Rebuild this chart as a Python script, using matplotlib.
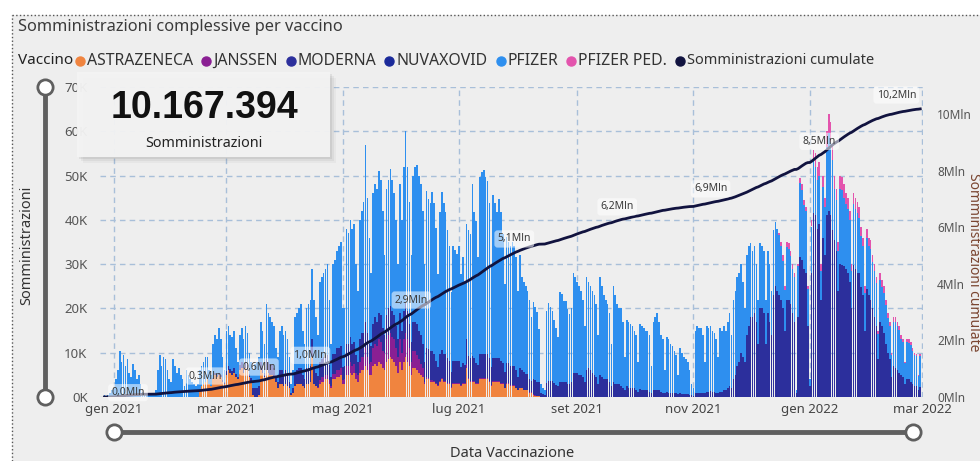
"""
Somministrazioni complessive per vaccino - daily doses by vaccine with cumulative line
"""

import numpy as np
import pandas as pd
import matplotlib.pyplot as plt
import matplotlib.dates as mdates
from matplotlib.lines import Line2D
from matplotlib.patches import Rectangle

plt.rcParams['font.family'] = ['Noto Sans', 'DejaVu Sans']

# daily doses in thousands, one row per week (Sun..Sat)
days = pd.date_range('2020-12-27', '2022-02-28')

pfizer_start = '2020-12-27'
pfizer = [
    0.5, 0.3, 0.4, 0.8, 1.5, 2.0, 4.0,
    6.0, 10.5, 8.0, 9.5, 7.0, 8.5, 5.5,
    4.5, 7.5, 6.0, 4.0, 5.0, 3.0, 1.2,
    0.6, 0.8, 0.7, 0.5, 0.9, 0.8, 1.5,
    6.0, 9.5, 7.0, 9.0, 8.5, 6.0, 4.0,
    3.5, 8.5, 7.0, 5.5, 6.5, 5.0, 4.0,
    2.5, 6.0, 5.0, 4.0, 3.5, 3.0, 2.5,
    3.0, 4.5, 4.5, 5.0, 5.5, 5.0, 3.0,
    2.5, 7.7, 8.5, 8.0, 10.0, 8.0, 5.2,
    2.7, 9.2, 9.0, 7.7, 7.7, 8.5, 5.9,
    3.5, 6.8, 7.5, 6.3, 8.0, 7.2, 4.7,
    3.7, 4.0, 5.5, 6.0, 6.5, 9.0, 8.0,
    6.5, 12.5, 11.0, 10.5, 9.5, 9.5, 6.0,
    5.5, 9.0, 10.0, 9.0, 9.0, 8.0, 5.5,
    2.0, 4.0, 12.5, 13.0, 13.5, 14.5, 10.0,
    8.0, 13.5, 14.5, 15.0, 16.0, 15.5, 12.5,
    9.2, 18.2, 18.5, 19.0, 19.5, 20.5, 14.7,
    7.5, 20.3, 21.3, 22.0, 23.0, 23.5, 13.2,
    13.0, 26.0, 25.0, 26.5, 26.0, 26.5, 20.5,
    16.0, 27.0, 27.5, 29.5, 40.0, 30.5, 24.0,
    16.5, 29.5, 30.0, 30.0, 32.0, 30.5, 26.5,
    18.0, 28.5, 29.0, 31.0, 29.5, 27.5, 24.0,
    17.0, 29.0, 25.0, 32.5, 38.5, 32.5, 27.5,
    19.5, 33.0, 35.0, 36.0, 35.0, 34.0, 30.0,
    22.0, 35.5, 34.0, 33.5, 36.0, 34.0, 30.0,
    21.0, 32.0, 35.5, 34.0, 32.0, 29.0, 26.0,
    18.0, 26.0, 25.0, 24.0, 26.0, 21.0, 24.0,
    19.0, 26.0, 28.5, 28.0, 39.0, 33.0, 32.0,
    24.5, 40.0, 41.0, 41.5, 40.0, 39.0, 35.0,
    23.0, 37.0, 35.0, 33.0, 36.0, 33.5, 29.0,
    20.0, 28.5, 27.5, 27.0, 28.0, 27.0, 25.5,
    19.4, 25.4, 20.9, 20.4, 19.9, 18.9, 17.9,
    14.4, 17.4, 16.4, 15.9, 12.1, 2.0, 1.4,
    1.1, 16.4, 17.7, 16.7, 15.8, 14.4, 13.0,
    11.1, 20.1, 19.7, 18.2, 18.2, 16.8, 15.8,
    16.5, 22.5, 21.5, 20.5, 20.0, 19.0, 17.5,
    12.5, 21.0, 19.5, 19.0, 18.5, 18.0, 16.5,
    11.0, 22.0, 20.5, 19.0, 18.0, 17.0, 15.5,
    9.5, 21.5, 20.0, 18.0, 17.0, 17.5, 15.0,
    7.5, 15.0, 15.0, 14.5, 14.0, 13.0, 12.5,
    6.8, 14.7, 14.5, 14.0, 13.5, 13.5, 12.8,
    6.0, 15.5, 16.5, 17.5, 15.5, 12.8, 12.0,
    5.2, 12.3, 12.0, 11.0, 10.5, 9.7, 8.7,
    4.4, 10.2, 9.3, 8.3, 7.9, 7.4, 5.5,
    2.5, 1.7, 14.0, 15.0, 14.5, 14.5, 13.0,
    7.0, 14.8, 14.3, 14.7, 13.8, 13.3, 12.0,
    8.0, 14.3, 13.8, 14.5, 13.5, 15.0, 16.5,
    12.0, 18.0, 19.0, 20.0, 20.0, 20.0, 17.0,
    12.0, 18.0, 18.0, 16.7, 15.0, 15.0, 13.0,
    10.0, 14.7, 14.0, 14.0, 10.0, 14.0, 13.0,
    10.0, 14.7, 14.6, 14.0, 13.5, 12.0, 10.8,
    9.2, 11.8, 11.5, 10.8, 10.0, 10.2, 0.5,
    11.5, 16.7, 15.8, 14.3, 14.0, 8.5, 1.5,
    10.5, 11.7, 11.0, 11.0, 11.0, 6.5, 11.5,
    11.0, 15.5, 17.5, 16.5, 15.8, 11.6, 11.5,
    9.0, 17.0, 17.0, 15.5, 14.5, 14.5, 14.0,
    8.5, 13.8, 13.5, 13.5, 12.5, 11.5, 11.0,
    8.5, 11.5, 11.0, 11.4, 10.5, 10.5, 9.8,
    5.7, 9.5, 8.9, 9.0, 8.8, 7.8, 7.5,
    5.0, 10.0, 10.5, 10.0, 9.7, 8.2, 7.9,
    4.6, 8.4, 8.2, 8.2, 7.4, 6.9, 6.7,
    3.2, 6.9,
]

moderna_start = '2021-02-21'
moderna = [
    0.0, 0.3, 0.5, 0.5, 0.5, 0.5, 0.3,
    0.3, 0.8, 1.0, 0.8, 0.8, 1.0, 0.6,
    0.5, 1.2, 1.5, 1.2, 1.5, 1.3, 0.8,
    0.8, 1.5, 2.0, 2.0, 2.0, 2.0, 1.5,
    1.0, 2.5, 2.5, 2.5, 2.5, 2.0, 1.5,
    1.5, 3.0, 3.0, 2.5, 3.0, 2.5, 1.5,
    0.5, 1.0, 3.0, 3.0, 3.5, 3.5, 2.5,
    2.0, 3.5, 3.5, 3.5, 4.0, 3.5, 3.0,
    2.5, 4.0, 4.0, 4.5, 4.5, 4.5, 3.5,
    2.0, 4.5, 4.5, 5.0, 5.0, 5.0, 3.0,
    3.0, 5.0, 5.0, 5.5, 5.0, 5.0, 4.0,
    3.0, 5.0, 5.5, 5.5, 6.0, 5.5, 4.5,
    3.5, 5.5, 6.0, 5.5, 6.0, 6.0, 5.0,
    4.0, 5.5, 6.0, 6.0, 6.0, 5.5, 5.0,
    4.0, 6.0, 5.0, 6.5, 7.0, 6.5, 5.5,
    4.5, 6.5, 6.5, 7.0, 6.5, 6.5, 5.5,
    4.5, 6.5, 6.5, 6.5, 6.5, 6.0, 5.0,
    4.0, 6.0, 6.5, 6.0, 6.0, 5.5, 5.0,
    3.5, 5.0, 5.0, 5.0, 5.0, 4.0, 4.5,
    4.0, 5.5, 5.0, 5.0, 5.5, 5.0, 4.5,
    4.0, 5.5, 5.5, 5.5, 5.5, 5.5, 5.0,
    4.0, 5.0, 5.0, 5.0, 5.0, 5.0, 4.5,
    3.5, 4.5, 4.5, 4.5, 4.5, 4.5, 4.0,
    3.0, 4.5, 4.0, 4.0, 3.5, 3.5, 3.0,
    2.5, 3.5, 3.5, 3.0, 3.0, 0.8, 0.5,
    0.3, 3.0, 3.5, 3.5, 3.5, 3.0, 2.5,
    2.5, 3.5, 3.5, 3.5, 3.5, 3.0, 3.0,
    3.5, 5.5, 5.5, 5.5, 5.0, 5.0, 4.5,
    3.5, 6.0, 6.5, 6.0, 5.5, 5.0, 4.5,
    3.0, 5.0, 4.5, 4.0, 4.0, 4.0, 3.5,
    2.5, 3.5, 3.0, 3.0, 3.0, 2.5, 2.0,
    1.5, 2.5, 2.0, 2.0, 2.0, 2.0, 1.5,
    1.2, 1.8, 1.5, 1.5, 1.5, 1.5, 1.2,
    1.0, 1.5, 1.5, 1.5, 1.5, 1.2, 1.0,
    0.8, 1.2, 1.0, 1.0, 1.0, 0.8, 0.8,
    0.6, 0.8, 0.7, 0.7, 0.6, 0.6, 0.5,
    0.5, 0.3, 1.0, 1.0, 1.0, 1.0, 1.0,
    1.0, 1.2, 1.2, 1.3, 1.2, 1.2, 1.0,
    1.0, 1.2, 1.2, 1.5, 1.5, 2.0, 2.5,
    2.0, 4.0, 5.0, 7.0, 8.0, 10.0, 9.0,
    8.0, 14.0, 16.0, 18.0, 18.0, 19.0, 17.0,
    12.0, 20.0, 20.0, 19.0, 12.0, 19.0, 17.0,
    14.0, 23.0, 25.0, 24.0, 23.0, 22.0, 20.0,
    15.0, 22.0, 22.0, 21.0, 19.0, 17.0, 1.0,
    18.0, 31.7, 31.0, 29.0, 28.0, 16.0, 2.5,
    28.0, 41.5, 41.0, 38.0, 39.0, 22.0, 36.0,
    32.0, 41.0, 42.0, 41.0, 37.7, 35.4, 33.0,
    24.0, 30.0, 29.7, 29.5, 29.0, 28.0, 26.0,
    20.0, 29.7, 29.0, 28.0, 28.0, 24.9, 23.0,
    15.0, 24.5, 23.0, 22.0, 20.0, 18.0, 16.0,
    8.5, 17.0, 16.0, 14.5, 12.0, 10.0, 8.5,
    4.5, 7.0, 6.5, 6.0, 5.5, 5.0, 4.5,
    3.0, 4.0, 4.0, 3.5, 3.0, 2.5, 2.5,
    1.5, 2.2,
]

astrazeneca_start = '2021-02-14'
astrazeneca = [
    0.0, 1.5, 2.5, 3.0, 3.5, 4.0, 3.0,
    2.5, 4.0, 5.0, 4.5, 5.0, 4.5, 3.5,
    3.0, 5.0, 6.0, 5.5, 5.0, 5.5, 4.5,
    4.0, 6.0, 6.5, 5.5, 6.5, 6.0, 4.5,
    3.5, 0.5, 0.0, 0.0, 0.5, 6.0, 5.5,
    4.5, 6.0, 5.5, 5.0, 5.0, 4.5, 3.5,
    2.0, 3.0, 3.0, 2.5, 3.0, 2.5, 2.0,
    0.5, 1.0, 2.5, 3.0, 3.0, 3.0, 2.5,
    2.0, 3.0, 3.0, 3.5, 9.0, 3.0, 2.5,
    2.0, 3.0, 3.5, 3.5, 4.0, 4.0, 3.0,
    2.0, 4.0, 4.0, 4.5, 4.5, 5.0, 3.0,
    3.0, 5.0, 5.0, 5.5, 5.0, 5.5, 4.0,
    3.5, 5.5, 6.0, 6.0, 7.0, 6.0, 5.0,
    5.0, 7.0, 7.5, 7.0, 8.0, 7.5, 6.5,
    6.0, 8.0, 8.5, 9.0, 8.5, 8.0, 7.0,
    5.5, 8.0, 6.0, 8.0, 9.0, 8.0, 7.0,
    5.0, 6.5, 6.5, 6.0, 5.5, 5.0, 4.5,
    3.0, 4.0, 4.0, 3.5, 3.5, 3.5, 3.0,
    2.5, 3.5, 4.0, 3.5, 3.5, 3.0, 3.0,
    2.0, 3.0, 3.0, 3.0, 3.0, 2.5, 3.0,
    3.0, 6.5, 4.0, 3.5, 3.5, 3.5, 3.0,
    3.0, 4.0, 4.0, 4.0, 4.0, 4.0, 3.5,
    2.5, 3.5, 3.5, 3.5, 3.5, 3.0, 3.0,
    2.0, 3.0, 3.0, 2.5, 2.5, 2.5, 2.0,
    1.5, 2.0, 2.0, 1.5, 1.5, 1.5, 1.0,
    1.0, 0.5, 0.3, 0.2, 0.2, 0.1, 0.1,
    0.1, 0.1, 0.1, 0.1, 0.1, 0.1, 0.1,
]

janssen_start = '2021-04-18'
janssen = [
    0.3, 0.8, 1.0, 1.0, 1.0, 1.0, 0.8,
    0.5, 1.2, 1.2, 1.5, 1.5, 1.5, 0.8,
    1.0, 2.0, 2.0, 2.5, 2.0, 2.0, 1.5,
    1.5, 2.5, 3.0, 3.0, 4.0, 3.0, 2.5,
    3.0, 4.0, 4.5, 4.5, 5.0, 5.0, 4.0,
    4.0, 5.0, 5.5, 5.5, 5.0, 5.0, 4.0,
    3.5, 5.0, 4.0, 5.0, 5.5, 5.0, 4.0,
    3.0, 4.0, 4.0, 3.5, 3.0, 2.5, 2.0,
    0.5, 0.5, 0.3, 0.3, 0.3, 0.2, 0.2,
    0.2, 0.2, 0.2, 0.2, 0.2, 0.2, 0.2,
    0.2, 0.2, 0.2, 0.2, 0.2, 0.2, 0.2,
    0.2, 1.0, 0.3, 0.2, 0.2, 0.2, 0.2,
    0.2, 0.2, 0.2, 0.2, 0.2, 0.2, 0.2,
    0.2, 0.2, 0.2, 0.2, 0.2, 0.2, 0.2,
    0.1, 0.1, 0.1, 0.1, 0.1, 0.1, 0.1,
    0.1, 0.1, 0.1, 0.1, 0.1, 0.1, 0.1,
    0.1, 0.1, 0.1, 0.1, 0.1, 0.0, 0.0,
]

pfizer_ped_start = '2021-12-12'
pfizer_ped = [
    0.0, 0.0, 0.0, 0.0, 0.5, 1.0, 1.2,
    0.8, 1.2, 1.2, 1.2, 1.0, 0.8, 0.0,
    0.5, 1.0, 1.2, 1.2, 1.0, 0.5, 0.0,
    1.5, 2.5, 3.0, 3.0, 3.0, 1.5, 2.5,
    2.0, 3.5, 4.5, 4.5, 3.5, 3.0, 2.5,
    2.0, 3.0, 3.0, 3.0, 2.5, 2.5, 2.0,
    1.5, 2.5, 2.5, 2.5, 2.5, 2.0, 2.0,
    1.5, 2.0, 2.0, 2.0, 1.5, 1.5, 1.2,
    0.8, 1.5, 1.5, 1.5, 1.2, 1.2, 1.0,
    0.5, 1.0, 1.0, 1.0, 0.8, 0.8, 0.8,
    0.4, 0.8, 0.8, 0.8, 0.6, 0.6, 0.6,
    0.3, 0.6,
]

nuvaxovid_start = '2022-02-27'
nuvaxovid = [0.05, 0.1]

series_names = ['ASTRAZENECA', 'JANSSEN', 'MODERNA', 'NUVAXOVID', 'PFIZER', 'PFIZER PED.']
series_colors = ['#f0843f', '#8a1f93', '#2c2f9c', '#1b2a9a', '#2e8fef', '#e354ad']
line_name = 'Somministrazioni cumulate'
line_color = '#11133f'
total_text = '10.167.394'

label_dates = ['2021-01-01', '2021-02-18', '2021-03-18', '2021-04-14', '2021-06-06',
               '2021-07-30', '2021-09-22', '2021-11-10', '2022-01-06', '2022-02-28']
label_texts = ['0,0Mln', '0,3Mln', '0,6Mln', '1,0Mln', '2,9Mln',
               '5,1Mln', '6,2Mln', '6,9Mln', '8,5Mln', '10,2Mln']

month_ticks = ['2021-01-01', '2021-03-01', '2021-05-01', '2021-07-01',
               '2021-09-01', '2021-11-01', '2022-01-01', '2022-03-01']
month_labels = ['gen 2021', 'mar 2021', 'mag 2021', 'lug 2021',
                'set 2021', 'nov 2021', 'gen 2022', 'mar 2022']


def daily(values, start):
    idx = pd.date_range(start, periods=len(values))
    return pd.Series(values, index=idx).reindex(days, fill_value=0.0) * 1000


W, H = 980, 461


def fx(px):
    return px / W


def fy(py):
    return 1 - py / H


stack = [daily(astrazeneca, astrazeneca_start), daily(janssen, janssen_start),
         daily(moderna, moderna_start), daily(nuvaxovid, nuvaxovid_start),
         daily(pfizer, pfizer_start), daily(pfizer_ped, pfizer_ped_start)]
total = sum(stack)
cumulative = total.cumsum()

fig = plt.figure(figsize=(W / 100, H / 100), dpi=100)
fig.patch.set_facecolor('white')

# visual background and dotted frame
fig.add_artist(Rectangle((fx(12), 0), 1 - fx(12), fy(15), transform=fig.transFigure,
                         facecolor='#eeeeee', edgecolor='none', zorder=-5))
fig.add_artist(Line2D([fx(12), fx(12)], [0, fy(15)], ls=':', lw=1, color='#555555', zorder=-4))
fig.add_artist(Line2D([fx(12), 1], [fy(15), fy(15)], ls=':', lw=1, color='#555555', zorder=-4))

ax = fig.add_axes([fx(100), fy(397), fx(923) - fx(100), fy(87) - fy(397)])
ax.patch.set_visible(False)

jan1 = mdates.date2num(pd.Timestamp('2021-01-01'))
px_per_day = 1.906
ax.set_xlim(jan1 - 14 / px_per_day, jan1 + 809 / px_per_day)
ax.set_ylim(0, 70000)

bottom = np.zeros(len(days))
for vals, color in zip(stack, series_colors):
    ax.bar(days, vals.values, width=0.85, bottom=bottom, color=color, linewidth=0, zorder=2)
    bottom += vals.values

grid_kw = dict(color='#a8bfd9', lw=1, ls=(0, (4, 3)))
ax.set_yticks(range(0, 70001, 10000))
ax.set_yticklabels([f'{v // 1000}K' for v in range(0, 70001, 10000)])
ax.set_xticks([mdates.date2num(pd.Timestamp(d)) for d in month_ticks])
ax.set_xticklabels(month_labels)
ax.grid(True, **grid_kw)
ax.set_axisbelow(True)
ax.tick_params(axis='y', length=0, pad=9, labelsize=9.5, labelcolor='#555555')
ax.tick_params(axis='x', length=0, pad=4, labelsize=9.5, labelcolor='#444444')
for s in ax.spines.values():
    s.set_visible(False)

# KPI card, kept under the tick labels
card = []
for off, a in [(6, 0.05), (4, 0.07), (2, 0.1)]:
    card.append(Rectangle((fx(77 + off), fy(157 + off)), fx(253), fy(0) - fy(85),
                          transform=fig.transFigure, facecolor='#555555', edgecolor='none',
                          alpha=a, zorder=2.3))
card.append(Rectangle((fx(77), fy(157)), fx(253), fy(0) - fy(85), transform=fig.transFigure,
                      facecolor='#f4f4f4', edgecolor='none', alpha=0.95, zorder=2.35))
for r in card:
    ax.add_artist(r)
    r.set_clip_on(False)
ax.text(fx(204), fy(108), total_text, transform=fig.transFigure, ha='center', va='center',
        fontsize=27, weight='bold', family=['Liberation Sans', 'DejaVu Sans'],
        color='#111111', zorder=2.4, clip_on=False)
ax.text(fx(204), fy(143), 'Somministrazioni', transform=fig.transFigure, ha='center',
        va='center', fontsize=10.3, weight='bold', color='#222222', zorder=2.4, clip_on=False)

ax2 = ax.twinx()
ax2.plot(days, cumulative.values, color=line_color, lw=2, zorder=3)
ax2.set_ylim(0, 10.95e6)
ax2.set_yticks(np.arange(0, 10.1e6, 2e6))
ax2.set_yticklabels([f'{int(v / 1e6)}Mln' for v in np.arange(0, 10.1e6, 2e6)])
ax2.tick_params(axis='y', length=0, pad=10, labelsize=8.5, labelcolor='#555555')
for s in ax2.spines.values():
    s.set_visible(False)

for i, (d, t) in enumerate(zip(label_dates, label_texts)):
    ts = pd.Timestamp(d)
    ha, dx, dy = 'center', 0, 10
    if i == 0:
        ha, dx, dy = 'left', -2, 3
    elif i == len(label_dates) - 1:
        ha, dx, dy = 'right', -3, 10
    ax2.annotate(t, (mdates.date2num(ts), cumulative[ts]), xytext=(dx, dy),
                 textcoords='offset points', ha=ha, va='center', fontsize=7.5,
                 color='#3a3a3a', zorder=5,
                 bbox=dict(boxstyle='round,pad=0.3', fc='white', ec='none', alpha=0.55))

# zoom sliders
slider = dict(color='#5f5f5f', lw=3.5, zorder=2)
knob = dict(marker='o', ms=11, mfc='white', mec='#5f5f5f', mew=2, ls='none', zorder=3)
fig.add_artist(Line2D([fx(45), fx(45)], [fy(87), fy(397)], **slider))
fig.add_artist(Line2D([fx(45), fx(45)], [fy(87), fy(397)], **knob))
fig.add_artist(Line2D([fx(114), fx(913)], [fy(432), fy(432)], **slider))
fig.add_artist(Line2D([fx(114), fx(913)], [fy(432), fy(432)], **knob))

# titles
fig.text(fx(18), fy(27), 'Somministrazioni complessive per vaccino', ha='left', va='center',
         fontsize=11.8, color='#3a3a3a')
fig.text(fx(27), fy(245), 'Somministrazioni', rotation=90, ha='center', va='center',
         fontsize=10.5, color='#333333')
fig.text(fx(512), fy(453), 'Data Vaccinazione', ha='center', va='center',
         fontsize=10.5, color='#333333')
fig.text(fx(973), fy(262), line_name, rotation=270, ha='center', va='center',
         fontsize=10, color='#7a4530')

# legend, laid out left to right
fig.text(fx(18), fy(61), 'Vaccino', ha='left', va='center', fontsize=11, weight='bold',
         color='#222222')
renderer = fig.canvas.get_renderer()
x = 80
for name, color in zip(series_names + [line_name], series_colors + [line_color]):
    size = 10.5 if name == line_name else 11.4
    fig.add_artist(Line2D([fx(x)], [fy(61)], marker='o', ms=6.5, mfc=color, mec=color, ls='none'))
    t = fig.text(fx(x + 7), fy(61), name, ha='left', va='center', fontsize=size, color='#333333')
    x = t.get_window_extent(renderer).x1 + 13

fig.savefig('out.png', dpi=100)
